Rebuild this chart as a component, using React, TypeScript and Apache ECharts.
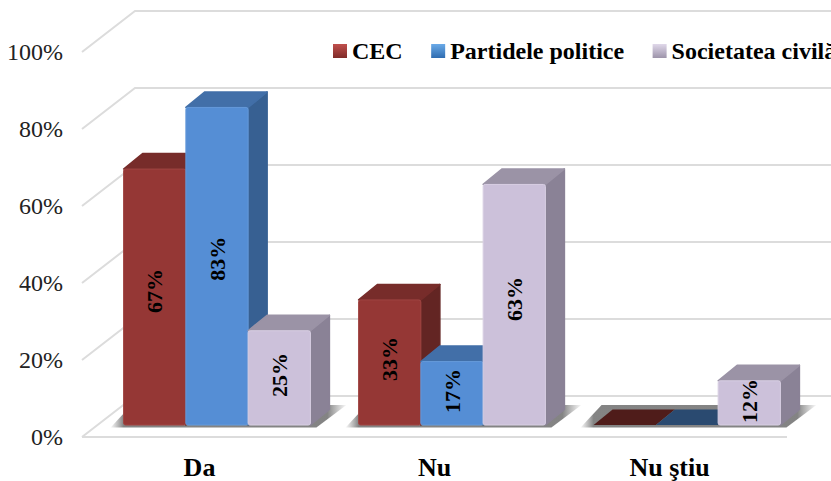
import React, { useEffect, useRef } from "react";
import * as echarts from "echarts";

const categories = ["Da", "Nu", "Nu ştiu"];
const cec = [67, 33, 0];
const partide = [83, 17, 0];
const societate = [25, 63, 12];
const ticks = [0, 20, 40, 60, 80, 100];
const seriesNames = ["CEC", "Partidele politice", "Societatea civilă"];
const seriesValues = [cec, partide, societate];

const palettes = [
  { front: "#953735", edge: "#a04543", top: "#772c2a", side: "#632523", flat: "#4f1c1a", legend: ["#c0504d", "#7f2a28"] },
  { front: "#558ed5", edge: "#659ada", top: "#426fa8", side: "#376092", flat: "#2a4a70", legend: ["#6aaae8", "#2f6cb0"] },
  { front: "#ccc1da", edge: "#d8cfe3", top: "#9b93a6", side: "#8a8296", flat: "#8a8296", legend: ["#e0d8ea", "#9d94aa"] },
];

const FLOOR_DX = 53;
const FLOOR_DY = 41;
const BAR_SHIFT_X = 17.5;
const BAR_SHIFT_Y = 12;
const BAR_TOP_DROP = 2;
const BAR_DX = 19;
const BAR_DY = 15.5;
const BAR_RATIO = 0.265;
const FONT = '"Liberation Serif", "Times New Roman", serif';

function gridLineItem(params: any, api: any) {
  const cs = params.coordSys;
  const y = api.coord([0, api.value(1)])[1];
  const x0 = cs.x;
  const lineStyle = { stroke: "#dcdcdc", lineWidth: 2, fill: "none" };
  const children: any[] = [
    {
      type: "polyline",
      shape: { points: [[x0, y], [x0 + FLOOR_DX, y - FLOOR_DY], [x0 + cs.width + FLOOR_DX, y - FLOOR_DY]] },
      style: lineStyle,
    },
  ];
  if (api.value(1) === 0) {
    children.push({
      type: "line",
      shape: { x1: x0, y1: y, x2: x0 + cs.width, y2: y },
      style: lineStyle,
    });
  }
  return { type: "group", children };
}

function shadowItem(params: any, api: any) {
  const base = api.coord([api.value(0), 0]);
  const band = api.size([1, 0])[0];
  const w = band * BAR_RATIO * 3;
  const left = base[0] + BAR_SHIFT_X - w / 2;
  const y = base[1] - BAR_SHIFT_Y;
  const total = w + 49;
  return {
    type: "polygon",
    shape: {
      points: [
        [left - 13, y + 2.5],
        [left + w + 6, y + 2.5],
        [left + w + 36, y - 20],
        [left + 8, y - 20],
      ],
    },
    style: {
      fill: new echarts.graphic.LinearGradient(0, 0, 1, 0, [
        { offset: 0, color: "rgba(130,130,130,0.05)" },
        { offset: 13 / total, color: "rgba(110,110,110,0.85)" },
        { offset: (w + 30) / total, color: "rgba(110,110,110,0.85)" },
        { offset: 1, color: "rgba(130,130,130,0.05)" },
      ]),
    },
  };
}

function barItem(index: number) {
  const p = palettes[index];
  return (params: any, api: any) => {
    const v = api.value(1);
    const base = api.coord([api.value(0), 0]);
    const topPt = api.coord([api.value(0), v]);
    const band = api.size([1, 0])[0];
    const w = band * BAR_RATIO;
    const x0 = base[0] + BAR_SHIFT_X - (w * 3) / 2 + index * w;
    const x1 = x0 + w;
    const yb = base[1] - BAR_SHIFT_Y;
    const yt = topPt[1] - BAR_SHIFT_Y + BAR_TOP_DROP;
    const children: any[] = [];
    if (v === 0) {
      children.push({
        type: "polygon",
        shape: { points: [[x0, yb], [x1, yb], [x1 + BAR_DX, yb - BAR_DY], [x0 + BAR_DX, yb - BAR_DY]] },
        style: { fill: p.flat },
      });
      return { type: "group", children };
    }
    children.push({
      type: "polygon",
      shape: { points: [[x1, yt], [x1 + BAR_DX, yt - BAR_DY], [x1 + BAR_DX, yb - BAR_DY], [x1, yb]] },
      style: { fill: p.side, stroke: p.side, lineWidth: 1.5, lineJoin: "round" },
    });
    children.push({
      type: "polygon",
      shape: { points: [[x0, yt], [x0 + BAR_DX, yt - BAR_DY], [x1 + BAR_DX, yt - BAR_DY], [x1, yt]] },
      style: { fill: p.top, stroke: p.top, lineWidth: 1.5, lineJoin: "round" },
    });
    children.push({
      type: "rect",
      shape: { x: x0, y: yt, width: w, height: yb - yt, r: 2 },
      style: { fill: p.front, stroke: p.edge, lineWidth: 1 },
    });
    children.push({
      type: "text",
      x: (x0 + x1) / 2,
      y: (yt + yb) / 2 - (yb - yt) * 0.02 - 1,
      rotation: Math.PI / 2,
      style: {
        text: v + "%",
        fill: "#000000",
        font: `bold 22px ${FONT}`,
        align: "center",
        verticalAlign: "middle",
      },
    });
    return { type: "group", children };
  };
}

export default function App() {
  const ref = useRef<HTMLDivElement>(null);
  useEffect(() => {
    const chart = echarts.init(ref.current!, undefined, { renderer: "svg" });
    chart.setOption({
      animation: false,
      backgroundColor: "#ffffff",
      grid: { left: 82, top: 52, width: 705, height: 385, outerBoundsMode: "none" },
      legend: {
        left: 333,
        top: 39,
        width: 700,
        padding: 0,
        itemWidth: 14,
        itemHeight: 14,
        itemGap: 28.5,
        icon: "rect",
        data: seriesNames,
        selectedMode: false,
        textStyle: { fontFamily: FONT, fontWeight: "bold", fontSize: 24, color: "#000000" },
      },
      xAxis: {
        type: "category",
        data: categories,
        axisLine: { show: false },
        axisTick: { show: false },
        axisLabel: { fontFamily: FONT, fontWeight: "bold", fontSize: 26, lineHeight: 23, color: "#000000", margin: 19 },
      },
      yAxis: {
        type: "value",
        min: 0,
        max: 100,
        interval: 20,
        splitLine: { show: false },
        axisLine: { show: false },
        axisTick: { show: false },
        axisLabel: {
          fontFamily: FONT,
          fontSize: 24,
          color: "#222222",
          margin: 19,
          padding: [5, 0, 0, 0],
          formatter: "{value}%",
        },
      },
      series: [
        {
          type: "custom",
          silent: true,
          renderItem: gridLineItem,
          data: ticks.map((t) => [0, t]),
          encode: { x: 0, y: 1 },
        },
        {
          type: "custom",
          silent: true,
          renderItem: shadowItem,
          data: categories.map((_, i) => [i, 0]),
          encode: { x: 0, y: 1 },
        },
        ...seriesNames.map((name, i) => ({
          type: "custom",
          name,
          renderItem: barItem(i),
          itemStyle: {
            color: new echarts.graphic.LinearGradient(0, 0, 0, 1, [
              { offset: 0, color: palettes[i].legend[0] },
              { offset: 1, color: palettes[i].legend[1] },
            ]),
          },
          data: seriesValues[i].map((v, c) => [c, v]),
          encode: { x: 0, y: 1 },
        })),
      ],
    });
    return () => chart.dispose();
  }, []);
  return <div ref={ref} style={{ position: "absolute", left: 0, top: 0, width: 831, height: 481 }} />;
}
